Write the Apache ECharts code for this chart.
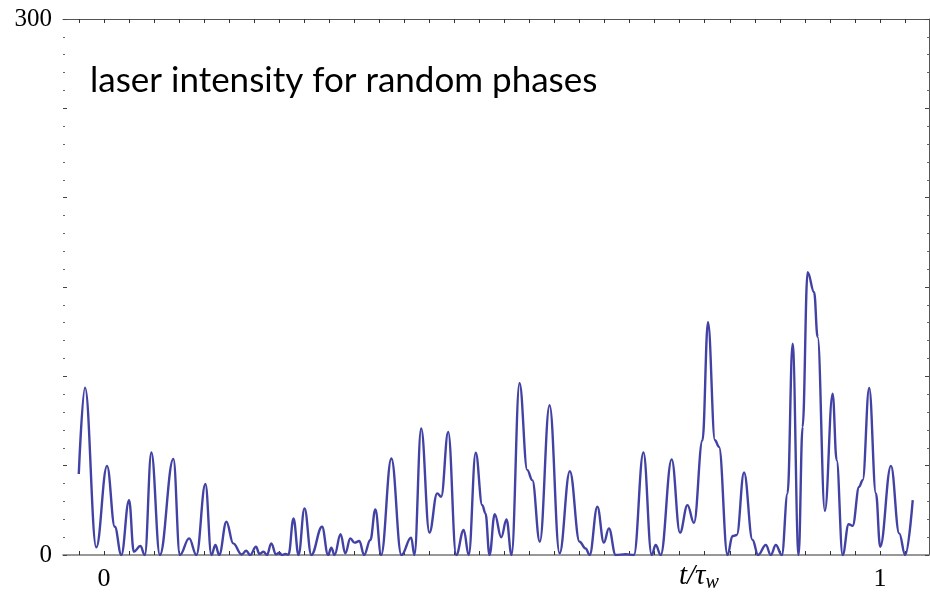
<!DOCTYPE html>
<html>
<head>
<meta charset="utf-8">
<script src="https://cdn.jsdelivr.net/npm/echarts@6/dist/echarts.min.js"></script>
<style>html,body{margin:0;padding:0;background:#fff}#c{width:930px;height:595px}</style>
</head>
<body>
<div id="c"></div>
<script>
// time in units of the sampling step (tau_w corresponds to 31 steps)
const tValues = [-1.01,-0.76,-0.31,0.12,0.43,0.69,1.0,1.19,1.45,1.63,1.89,2.23,2.77,3.03,3.4,3.69,4.05,4.29,4.45,4.6,4.89,5.16,5.5,5.68,5.84,6.07,6.21,6.37,6.51,6.68,6.87,7.01,7.11,7.24,7.37,7.57,7.77,8.01,8.28,8.71,8.95,9.08,9.21,9.45,9.64,9.84,10.01,10.2,10.39,10.64,10.84,11.07,11.48,11.88,12.27,12.4,12.67,13.0,13.31,13.47,13.75,14.07,14.37,14.57,14.85,15.11,15.24,15.4,15.61,15.87,16.08,16.28,16.6,16.91,17.11,17.41,17.8,18.2,18.61,19.0,19.24,19.4,19.71,19.97,20.17,20.44,20.84,21.17,21.55,21.88,22.04,22.24,22.68,23.01,23.31,23.57,23.91,24.13,24.41,24.57,24.91,25.11,25.28,25.57,25.91,26.13,26.44,26.64,26.84,27.08,27.31,27.51,27.75,27.91,28.11,28.37,28.51,28.8,29.11,29.27,29.51,29.75,29.91,30.17,30.31,30.57,30.84,31.01,31.44,31.77,32.01,32.31];
const intensity = [45.3,93.7,4.3,49.9,15.8,0,30.7,1.8,5.0,0,57.4,0,53.8,0,9.3,0,39.7,0,5.6,0,18.6,6.5,0.3,2.4,0,4.6,0.6,1.8,0,6.5,0.4,1.3,0,0.6,0.2,20.5,0,26.1,0,15.8,0,4.1,0,11.6,0.9,9.3,6.9,7.8,0,8.4,25.5,0,54.0,0,9.7,0,70.8,12.5,34.5,32.6,68.9,0,14.0,0,57.2,27.9,23.3,0,22.9,9.9,19.9,0,96.3,47.5,41.9,7.4,83.8,0.9,46.9,7.4,3.7,0,27.0,6.9,14.9,0,0.4,0,57.4,0,5.6,0,53.5,12.5,27.9,18.0,64.2,130.3,64.2,60.5,0,10.6,11.2,46.2,8.4,0,5.6,0,5.6,0,34.5,118.3,0,71.7,158.3,147.1,122.0,24.7,90.3,53.1,0,17.2,16.4,38.2,41.9,93.5,34.5,4.6,49.9,12.1,0,30.7];
const xTicks = [-1,0,1,2,3,4,5,6,7,8,9,10,11,12,13,14,15,16,17,18,19,20,21,22,23,24,25,26,27,28,29,30,31,32];
const xLabelValues = [0, 31];
const xLabelTexts = {0: '0', 31: '1'};
const yLabelValues = [0, 300];
const titleText = 'laser intensity for random phases';

const X_MIN = -1.64, X_MAX = 32.96;
const data = tValues.map((t, i) => [t, intensity[i]]);
const chart = echarts.init(document.getElementById('c'), null, {renderer: 'canvas'});
const axisCol = '#777777';
chart.setOption({
  backgroundColor: '#ffffff',
  animation: false,
  grid: {left: 63, right: 1, top: 19, bottom: 40, containLabel: false},
  xAxis: [{
    type: 'value', position: 'bottom', min: X_MIN, max: X_MAX,
    axisLine: {show: true, onZero: false, lineStyle: {color: axisCol, width: 1.5}},
    axisTick: {show: true, inside: true, length: 4, customValues: xTicks, lineStyle: {color: '#333'}},
    axisLabel: {show: true, customValues: xLabelValues, formatter: v => xLabelTexts[Math.round(v)] || '',
      margin: 11, color: '#000', fontFamily: 'Liberation Serif', fontSize: 26},
    splitLine: {show: false}
  }, {
    type: 'value', position: 'top', min: X_MIN, max: X_MAX,
    axisLine: {show: true, onZero: false, lineStyle: {color: '#555', width: 1}},
    axisTick: {show: true, inside: true, length: 4, customValues: xTicks, lineStyle: {color: '#333'}},
    axisLabel: {show: false}, splitLine: {show: false}
  }],
  yAxis: [{
    type: 'value', position: 'left', min: 0, max: 300, interval: 50,
    axisLine: {show: false, onZero: false},
    axisTick: {show: true, inside: true, length: 4, lineStyle: {color: '#444'}},
    minorTick: {show: true, splitNumber: 5, length: 2, lineStyle: {color: '#666'}},
    axisLabel: {show: true, customValues: yLabelValues, formatter: v => String(v), margin: 11,
      color: '#000', fontFamily: 'Liberation Serif', fontSize: 25},
    splitLine: {show: false}, minorSplitLine: {show: false}
  }, {
    type: 'value', position: 'right', min: 0, max: 300, interval: 50,
    axisLine: {show: true, onZero: false, lineStyle: {color: '#555', width: 1}},
    axisTick: {show: true, inside: true, length: 4, lineStyle: {color: '#444'}},
    minorTick: {show: true, splitNumber: 5, length: 2, lineStyle: {color: '#666'}},
    axisLabel: {show: false}, splitLine: {show: false}
  }],
  series: [{
    type: 'line', xAxisIndex: 0, yAxisIndex: 0, data: data,
    smooth: 0.4, smoothMonotone: 'x', showSymbol: false, clip: true,
    lineStyle: {color: '#4242a4', width: 2.4}
  }],
  graphic: [{
    type: 'text', left: 90, top: 63,
    style: {text: titleText, fill: '#000', font: '35px Lato'}
  }, {
    type: 'text', left: 679, top: 562,
    style: {
      text: '{a|t/τ}{b|w}',
      rich: {
        a: {fontFamily: 'Liberation Serif', fontStyle: 'italic', fontSize: 29, fill: '#000'},
        b: {fontFamily: 'Liberation Serif', fontStyle: 'italic', fontSize: 20, fill: '#000', padding: [12, 0, 0, 0]}
      }
    }
  }]
});
</script>
</body>
</html>
